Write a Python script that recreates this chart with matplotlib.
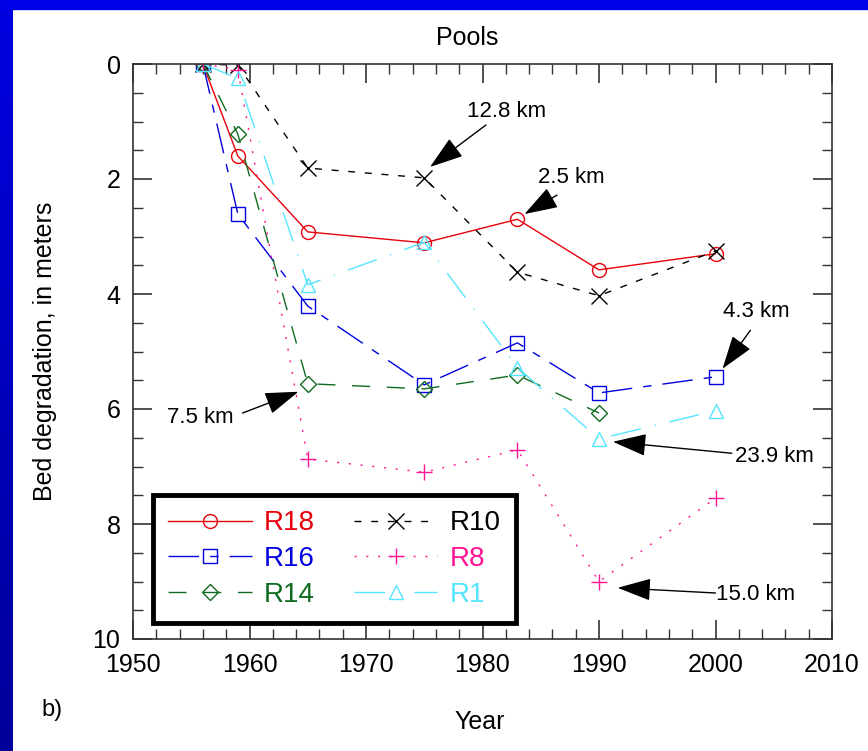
import numpy as np
import matplotlib.pyplot as plt
from matplotlib.patches import Rectangle
from matplotlib.colors import LinearSegmentedColormap
from matplotlib.ticker import MultipleLocator

plt.rcParams['font.family'] = ['Liberation Sans', 'DejaVu Sans']

# survey years and bed degradation (m) at each pool
years = [1956, 1959, 1965, 1975, 1983, 1990, 2000]
r18 = [0, 1.60, 2.92, 3.11, 2.70, 3.58, 3.30]
r10 = [0, 0.02, 1.81, 1.98, 3.62, 4.03, 3.25]
r16 = [0, 2.61, 4.21, 5.58, 4.85, 5.72, 5.44]
r8 = [0, 0.10, 6.87, 7.10, 6.71, 9.00, 7.55]
r14 = [0, 1.22, 5.56, 5.65, 5.41, 6.07]
r1 = [0, 0.25, 3.84, 3.10, 5.28, 6.52, 6.03]

# distance labels: text position, arrow tail, arrow head (data coords)
notes = [
    ("12.8 km", (1982.1, 0.83), (1980.3, 1.06), (1975.5, 1.79)),
    ("2.5 km", (1987.6, 1.97), (1986.4, 2.28), (1983.6, 2.61)),
    ("7.5 km", (1955.8, 6.14), (1959.4, 6.07), (1964.2, 5.70)),
    ("4.3 km", (2003.5, 4.31), (2003.0, 4.63), (2000.6, 5.30)),
    ("23.9 km", (2005.1, 6.83), (2001.4, 6.77), (1991.2, 6.57)),
    ("15.0 km", (2003.4, 9.23), (2000.0, 9.20), (1991.6, 9.11)),
]

fig = plt.figure(figsize=(8.68, 7.51), dpi=100)
fig.patch.set_facecolor('white')

# blue slide frame on top and left
fig.patches.append(Rectangle((0, 1 - 9 / 751), 1, 9 / 751, transform=fig.transFigure,
                             color='#0000e6', zorder=0))
gax = fig.add_axes([0, 0, 13 / 868, 1 - 9 / 751])
grad = np.linspace(0, 1, 256).reshape(-1, 1)
cm = LinearSegmentedColormap.from_list('frame', ['#0000e0', '#00009a'])
gax.imshow(grad, aspect='auto', cmap=cm)
gax.axis('off')

ax = fig.add_axes([133 / 868, 1 - 639 / 751, 699 / 868, 575 / 751])

ax.plot(years, r18, color='#e8000b', lw=1, ls='-', marker='o', ms=10, mfc='none',
        label='R18')
ax.plot(years, r16, color='#0000e0', lw=1, ls=(0, (22, 8, 6, 8)), marker='s', ms=10,
        mfc='none', label='R16')
ax.plot(years[:6], r14, color='#0f6b1f', lw=1, ls=(0, (13, 12)), marker='D', ms=8,
        mfc='none', label='R14')
ax.plot(years, r10, color='black', lw=1, ls=(0, (5, 7)), marker='x', ms=11,
        label='R10')
ax.plot(years, r8, color='#ff1493', lw=1, ls=(0, (1.5, 7)), marker='+', ms=12,
        label='R8')
ax.plot(years, r1, color='#55e5ff', lw=1, ls=(0, (22, 10, 1, 10)), marker='^', ms=10,
        mfc='none', label='R1')

for txt, tpos, tail, head in notes:
    ax.text(*tpos, txt, fontsize=16, ha='center', va='center')
    ax.annotate('', xy=head, xytext=tail,
                arrowprops=dict(arrowstyle='-|>,head_length=1.5,head_width=0.5',
                                color='black', lw=1, mutation_scale=14,
                                shrinkA=0, shrinkB=0))

ax.set_xlim(1950, 2010)
ax.set_ylim(10, 0)
ax.xaxis.set_major_locator(MultipleLocator(10))
ax.xaxis.set_minor_locator(MultipleLocator(2))
ax.yaxis.set_major_locator(MultipleLocator(2))
ax.yaxis.set_minor_locator(MultipleLocator(0.5))
ax.tick_params(which='both', direction='in', top=True, right=True, labelsize=18,
               color='#333333')
ax.tick_params(which='major', length=14, width=1.2)
ax.tick_params(which='minor', length=7, width=1)
ax.tick_params(axis='x', pad=10)
ax.tick_params(axis='y', pad=9)
for s in ax.spines.values():
    s.set_color('#333333')
    s.set_linewidth(1.2)

ax.set_ylabel('Bed degradation, in meters', fontsize=18, labelpad=26)
fig.text(480 / 868, 1 - 722 / 751, 'Year', fontsize=18, ha='center', va='center')
fig.text(467 / 868, 1 - 38 / 751, 'Pools', fontsize=18, ha='center', va='center')
fig.text(52 / 868, 1 - 710 / 751, 'b)', fontsize=17, ha='center', va='center')

leg = ax.legend(ncol=2, loc='lower left', bbox_to_anchor=(0.0286, 0.0278),
                fontsize=20, labelcolor='linecolor', fancybox=False,
                edgecolor='black', framealpha=1, handlelength=3.0,
                handletextpad=0.45, columnspacing=1.4, labelspacing=0.35,
                borderpad=0.55, borderaxespad=0)
leg.get_frame().set_linewidth(3.5)

fig.savefig('out.png', dpi=100)
